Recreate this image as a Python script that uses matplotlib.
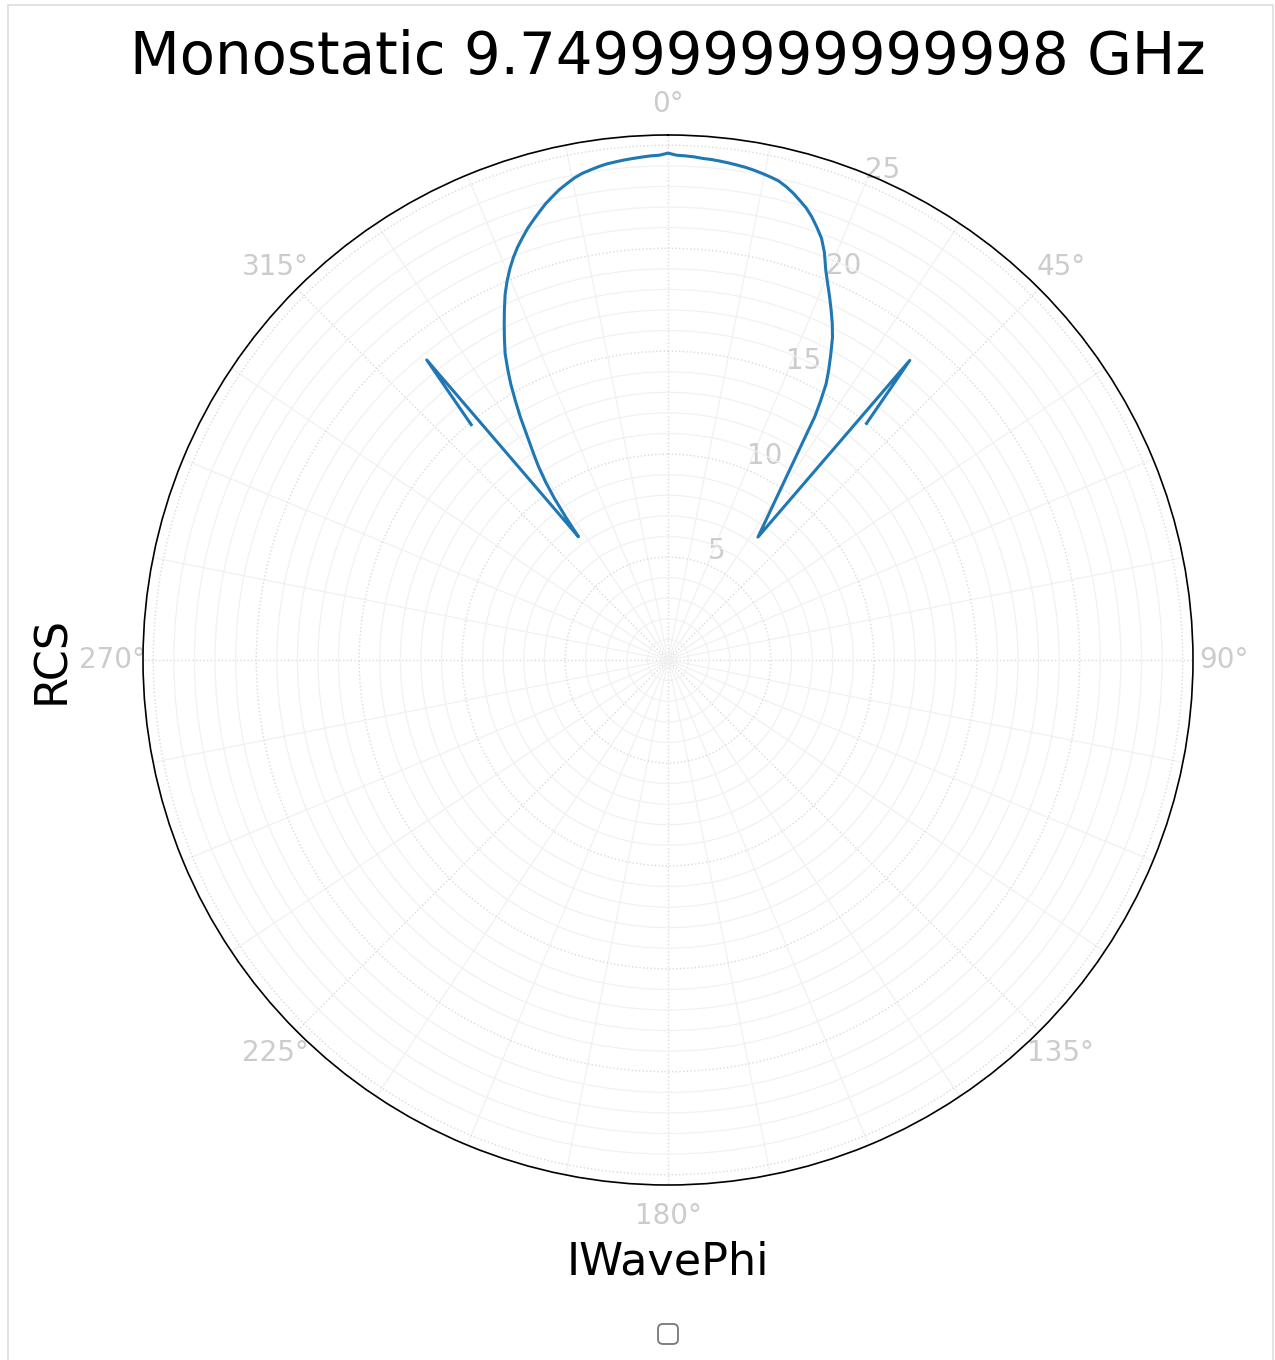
import numpy as np
import matplotlib
matplotlib.use("Agg")
import matplotlib.pyplot as plt
from matplotlib.ticker import FixedLocator
from matplotlib.patches import Rectangle

# Monostatic RCS versus incident wave phi angle
iwave_phi_deg = [
    -39.9, -38.8, -36.0, -35.6, -35.1, -34.5, -33.8, -33.1, -32.3, -31.3,
    -30.5, -29.7, -28.9, -28.0, -27.0, -26.0, -25.0, -24.0, -23.0, -22.0,
    -21.0, -20.0, -19.0, -18.0, -17.0, -16.0, -15.0, -14.0, -13.0, -12.0,
    -11.0, -10.0, -9.0, -8.0, -7.0, -6.0, -5.0, -4.0, -3.0, -2.0,
    -1.0, 0.0, 1.0, 2.0, 3.0, 4.0, 5.0, 6.0, 7.0, 8.0,
    9.0, 10.0, 11.0, 12.0, 13.0, 14.0, 15.0, 16.0, 17.0, 18.0,
    19.0, 20.0, 21.0, 22.0, 23.0, 24.0, 25.0, 26.0, 27.0, 28.0,
    29.0, 29.8, 30.5, 31.1, 36.2, 38.9, 40.0,
]
rcs_values = [
    14.9, 18.7, 7.4, 8.5, 9.6, 10.5, 11.3, 11.95, 12.7, 13.8,
    14.6, 15.4, 16.1, 16.85, 17.5, 18.15, 18.8, 19.45, 20.0, 20.5,
    20.95, 21.35, 21.7, 22.05, 22.35, 22.65, 22.95, 23.2, 23.45, 23.65,
    23.85, 24.0, 24.1, 24.2, 24.28, 24.33, 24.38, 24.42, 24.46, 24.5,
    24.52, 24.62, 24.52, 24.5, 24.47, 24.42, 24.4, 24.36, 24.32, 24.27,
    24.22, 24.15, 24.07, 23.98, 23.88, 23.7, 23.48, 23.22, 22.96, 22.62,
    22.22, 21.8, 21.2, 20.45, 19.85, 19.3, 18.75, 18.2, 17.6, 16.85,
    16.1, 15.45, 14.6, 13.8, 7.4, 18.7, 15.0,
]
r_ticks = [5, 10, 15, 20, 25]
r_max = 25.5
title_text = "Monostatic 9.749999999999998 GHz"

W, H, DPI = 1275, 1360, 100
fig = plt.figure(figsize=(W / DPI, H / DPI), dpi=DPI)

# thin light frame around the figure
fig.patches.append(Rectangle((8 / W, -0.01), (1273 - 8) / W, 1.01 - 5 / H,
                             transform=fig.transFigure, fill=False,
                             edgecolor="#dddddd", linewidth=1.2))

ax = fig.add_axes([143 / W, 175 / H, 1050 / W, 1050 / H], projection="polar")
ax.set_theta_zero_location("N")
ax.set_theta_direction(-1)

ax.plot(np.deg2rad(iwave_phi_deg), rcs_values, color="#1f77b4", linewidth=2.2)

ax.set_ylim(0, r_max)
ax.set_yticks(r_ticks)
ax.yaxis.set_minor_locator(FixedLocator(np.arange(1, 26, 1)))
ax.set_xticks(np.deg2rad(np.arange(0, 360, 45)))
ax.xaxis.set_minor_locator(FixedLocator(np.deg2rad(np.arange(0, 360, 11.25))))

ax.grid(which="major", color="#dadada", linestyle=":", linewidth=1.0)
ax.grid(which="minor", color="#f1f1f1", linestyle="-", linewidth=0.9)
ax.tick_params(which="both", length=0)
ax.tick_params(axis="both", which="major", labelsize=20, labelcolor="#cccccc")
ax.tick_params(axis="x", which="major", pad=15)
ax.spines["polar"].set_color("black")
ax.spines["polar"].set_linewidth(1.2)

ax.set_title(title_text, fontsize=41.6, pad=44)
ax.set_xlabel("IWavePhi", fontsize=32, labelpad=8)
ax.set_ylabel("RCS", fontsize=32, labelpad=50)

leg = ax.legend(handles=[], loc="upper center", bbox_to_anchor=(0.5, -0.12),
                frameon=True, prop={"size": 18})
leg.get_frame().set_edgecolor("#555555")
leg.get_frame().set_linewidth(1.3)

fig.savefig("out.png", dpi=DPI)
